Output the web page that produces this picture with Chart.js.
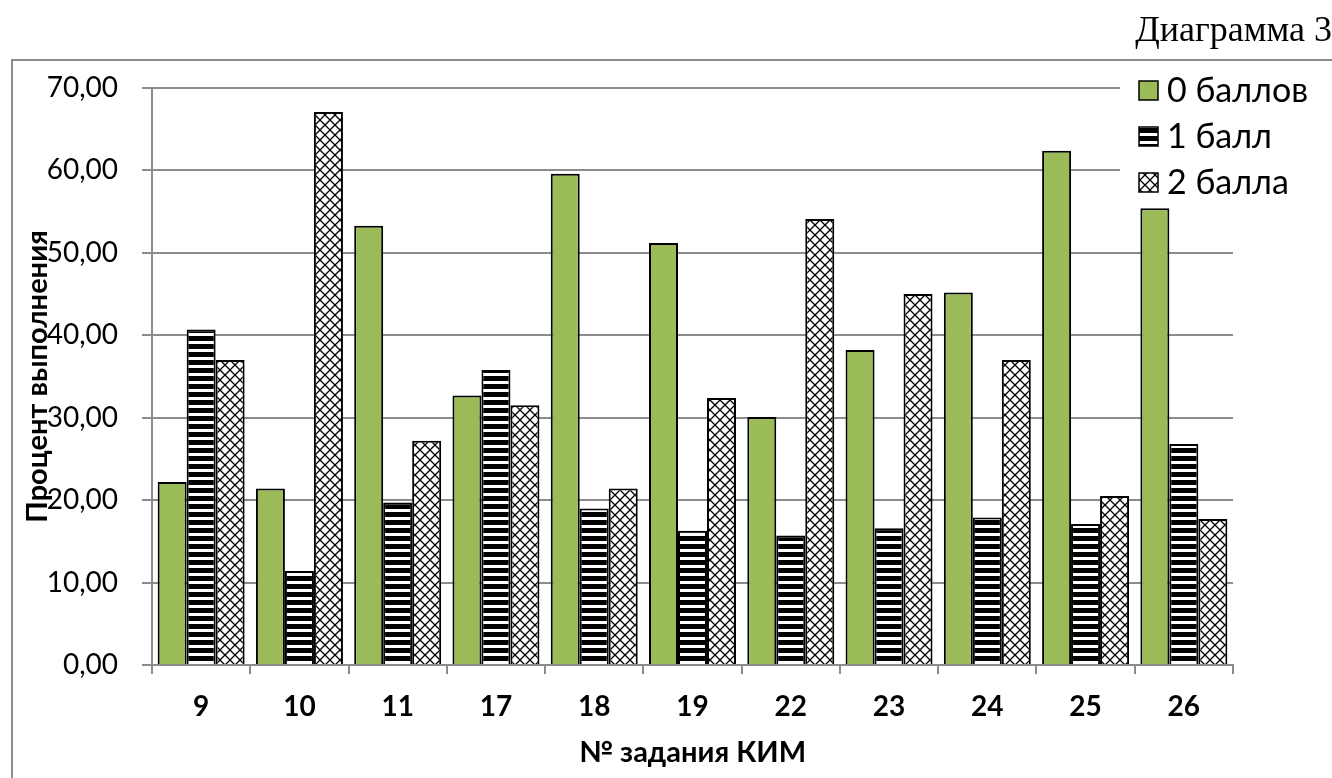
<!DOCTYPE html>
<html>
<head>
<meta charset="utf-8">
<script src="https://cdn.jsdelivr.net/npm/chart.js@4.4.1/dist/chart.umd.min.js"></script>
<style>
html,body{margin:0;padding:0;background:#fff;overflow:hidden;}
#c{position:absolute;left:0;top:0;}
</style>
</head>
<body>
<canvas id="c" width="1332" height="778"></canvas>
<script>
const categories = ['9','10','11','17','18','19','22','23','24','25','26'];
const seriesNames = ['0 баллов','1 балл','2 балла'];
const score0 = [22.2, 21.4, 53.3, 32.7, 59.6, 51.2, 30.1, 38.2, 45.2, 62.4, 55.4];
const score1 = [40.7, 11.4, 19.7, 35.8, 19.0, 16.3, 15.7, 16.6, 17.9, 17.1, 26.8];
const score2 = [37.0, 67.1, 27.2, 31.5, 21.4, 32.4, 54.1, 45.0, 37.0, 20.5, 17.7];
const yTickLabels = ['0,00','10,00','20,00','30,00','40,00','50,00','60,00','70,00'];
const chartTitle = 'Диаграмма 3';
const xTitle = '№ задания КИМ';
const yTitle = 'Процент выполнения';

const GRID = '#8c8c8c';
const GREEN = '#9bbb59';

function stripePattern(){
  const c = document.createElement('canvas'); c.width = 8; c.height = 8;
  const g = c.getContext('2d');
  g.fillStyle = '#fff'; g.fillRect(0,0,8,8);
  g.fillStyle = '#000'; g.fillRect(0,0,8,5);
  return g.createPattern(c,'repeat');
}
function crossPattern(){
  const c = document.createElement('canvas'); c.width = 10; c.height = 10;
  const g = c.getContext('2d');
  g.fillStyle = '#fff'; g.fillRect(0,0,10,10);
  g.strokeStyle = '#000'; g.lineWidth = 1.3;
  g.beginPath();
  g.moveTo(0,0); g.lineTo(10,10);
  g.moveTo(10,0); g.lineTo(0,10);
  g.stroke();
  return g.createPattern(c,'repeat');
}
const fills = [GREEN, stripePattern(), crossPattern()];

const decor = {
  id: 'decor',
  beforeDraw(chart){
    const ctx = chart.ctx;
    ctx.save();
    ctx.fillStyle = '#fff';
    ctx.fillRect(0,0,chart.width,chart.height);
    ctx.strokeStyle = GRID; ctx.lineWidth = 2;
    ctx.beginPath();
    ctx.moveTo(12, chart.height); ctx.lineTo(12, 60); ctx.lineTo(chart.width, 60);
    ctx.stroke();
    ctx.fillStyle = '#000';
    ctx.font = '36px "Liberation Serif", serif';
    ctx.textAlign = 'right'; ctx.textBaseline = 'alphabetic';
    ctx.fillText(chartTitle, 1332, 41);
    ctx.restore();
  },
  afterDraw(chart){
    const ctx = chart.ctx;
    ctx.save();
    ctx.fillStyle = '#fff';
    ctx.fillRect(1120, 63, chart.width - 1120, 142);
    const rows = [90, 136, 182];
    chart.data.datasets.forEach((ds, i) => {
      const y = rows[i];
      ctx.fillStyle = ds.backgroundColor;
      ctx.fillRect(1139, y - 9, 19, 19);
      ctx.strokeStyle = '#000'; ctx.lineWidth = 1.5;
      ctx.strokeRect(1139, y - 9, 19, 19);
      ctx.fillStyle = '#000';
      ctx.font = '34px Lato, sans-serif';
      ctx.textAlign = 'left'; ctx.textBaseline = 'middle';
      ctx.fillText(ds.label, 1167, y + 1);
    });
    ctx.restore();
  }
};

new Chart(document.getElementById('c'), {
  type: 'bar',
  data: {
    labels: categories,
    datasets: [
      {label: seriesNames[0], data: score0, backgroundColor: fills[0]},
      {label: seriesNames[1], data: score1, backgroundColor: fills[1]},
      {label: seriesNames[2], data: score2, backgroundColor: fills[2]}
    ]
  },
  options: {
    responsive: false,
    animation: false,
    devicePixelRatio: 1,
    layout: {padding: {top: 88, right: 99, left: 0, bottom: 0}},
    datasets: {bar: {categoryPercentage: 0.885, barPercentage: 1.0, borderWidth: 2, borderColor: '#000', borderSkipped: 'start'}},
    plugins: {legend: {display: false}, title: {display: false}, tooltip: {enabled: false}},
    scales: {
      x: {
        grid: {drawOnChartArea: false, drawTicks: true, tickLength: 9, color: GRID, lineWidth: 2, offset: true},
        border: {display: true, color: GRID, width: 2},
        ticks: {color: '#000', font: {family: 'Lato', size: 28, weight: 'bold'}, padding: 16, maxRotation: 0},
        title: {display: true, text: xTitle, color: '#000', font: {family: 'Lato', size: 29, weight: 'bold'}, padding: {top: 0, bottom: 8}},
        afterFit(s){ s.height = 778 - 665; }
      },
      y: {
        min: 0, max: 70,
        grid: {color: GRID, lineWidth: 2, drawTicks: true, tickLength: 10},
        border: {display: true, color: GRID, width: 2},
        ticks: {stepSize: 10, color: '#000', font: {family: 'Lato', size: 28}, padding: 24,
          callback: (v) => yTickLabels[Math.round(v / 10)]},
        title: {display: true, text: yTitle, color: '#000', font: {family: 'Lato', size: 29, weight: 'bold'}, padding: {top: 20, bottom: 0}},
        afterFit(s){ s.width = 152; }
      }
    }
  },
  plugins: [decor]
});
</script>
</body>
</html>
